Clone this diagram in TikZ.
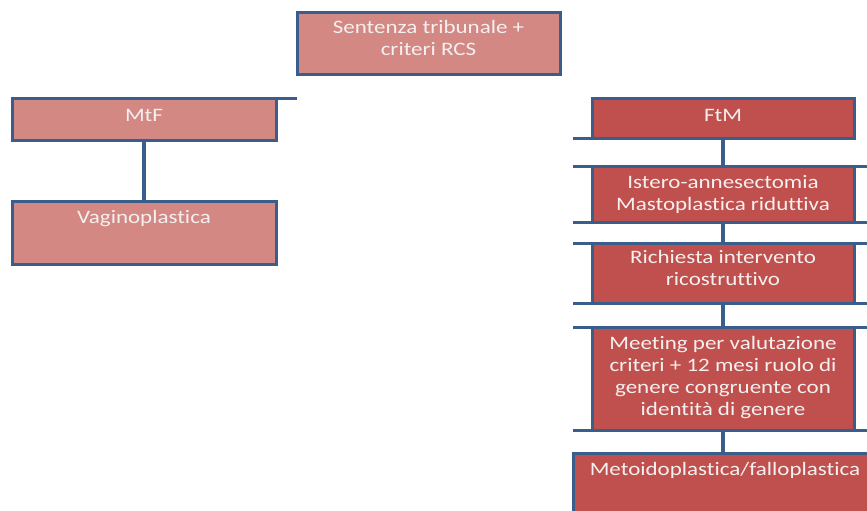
\documentclass[tikz,border=0pt]{standalone}
\usepackage{fontspec}
\setmainfont{Carlito}[FakeStretch=1.21,Ligatures=NoCommon]
\begin{document}
\begin{tikzpicture}[x=1pt,y=-1pt,
  edge/.style={draw=frame,line width=3pt},
  lightbox/.style={rectangle,draw=frame,line width=3pt,fill=lightred,inner sep=0pt,outer sep=0pt},
  darkbox/.style={rectangle,draw=frame,line width=3pt,fill=darkred,inner sep=0pt,outer sep=0pt},
  caption/.style={anchor=base,inner sep=0pt,text=txt,font=\fontsize{19}{22}\selectfont,align=center},
  link/.style={draw=frame,line width=4.5pt}]
\definecolor{frame}{HTML}{3A5E8C}
\definecolor{lightred}{HTML}{D38884}
\definecolor{darkred}{HTML}{C0504D}
\definecolor{txt}{HTML}{F4F0F0}
\useasboundingbox (0,0) rectangle (867,511);

% top box
\node[lightbox,minimum width=263pt,minimum height=61pt] (sent) at (428.5,43.5) {};
\node[caption] (sentT) at (428.5,34) {Sentenza tribunale +};
\node[caption] (sentT2) at (428.5,56) {criteri RCS};

% left column
\node[lightbox,minimum width=264pt,minimum height=42pt] (mtf) at (144,119) {};
\node[caption] (mtfT) at (144,121) {MtF};
\node[lightbox,minimum width=264pt,minimum height=63pt] (vag) at (144,232.5) {};
\node[caption] (vagT) at (144,223) {Vaginoplastica};
\coordinate (mtfTail) at (297,98);
\draw[edge] (mtf.north east) -- (mtfTail);
\draw[link,line width=3.5pt] (mtf.south) -- (vag.north);

% right column
\coordinate (barL) at (573,0);
\coordinate (barR) at (867,0);
\node[darkbox,minimum width=262pt,minimum height=40pt] (ftm) at (723,118) {};
\node[caption] (ftmT) at (723,121) {FtM};
\node[darkbox,minimum width=262pt,minimum height=56pt] (ist) at (723,194) {};
\node[caption] (istT) at (723,188) {Istero-annesectomia};
\node[caption] (istT2) at (723,210) {Mastoplastica riduttiva};
\node[darkbox,minimum width=262pt,minimum height=60pt] (ric) at (723,273) {};
\node[caption] (ricT) at (723,263) {Richiesta intervento};
\node[caption] (ricT2) at (723,285) {ricostruttivo};
\node[darkbox,minimum width=262pt,minimum height=103pt] (mee) at (723,378.5) {};
\node[caption] (meeT) at (723,349) {Meeting per valutazione};
\node[caption] (meeT2) at (723,371.5) {criteri + 12 mesi ruolo di};
\node[caption] (meeT3) at (723,393.5) {genere congruente con};
\node[caption] (meeT4) at (723,415.5) {identità di genere};
\node[darkbox,minimum width=300pt,minimum height=74pt] (met) at (723,490) {};
\node[caption] (metT) at (725,475) {Metoidoplastica/falloplastica};

% horizontal bars along the right column
\draw[edge] (barL|-ftm.south) -- (ftm.south east);
\foreach \b in {ist,ric,mee}{
  \draw[edge] (barL|-\b.north) -- (barR|-\b.north);
  \draw[edge] (barL|-\b.south) -- (barR|-\b.south);
}

% vertical links
\draw[link] (ftm.south) -- (ist.north);
\draw[link] (ist.south) -- (ric.north);
\draw[link] (ric.south) -- (mee.north);
\draw[link] (mee.south) -- (met.north);
\end{tikzpicture}
\end{document}
